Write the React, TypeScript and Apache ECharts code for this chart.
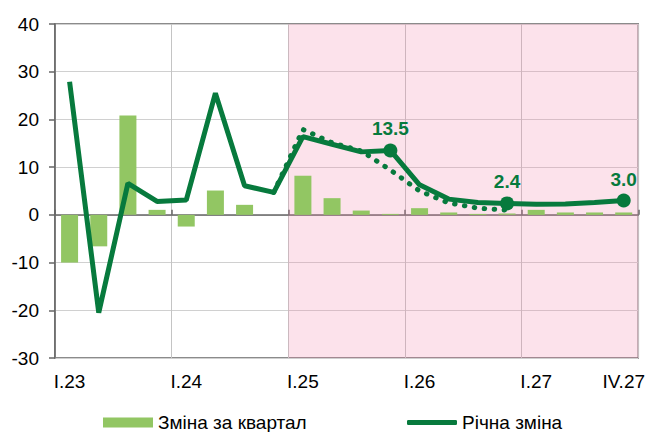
import React, { useEffect, useRef } from "react";
import * as echarts from "echarts";

const categories = [
  "I.23", "II.23", "III.23", "IV.23",
  "I.24", "II.24", "III.24", "IV.24",
  "I.25", "II.25", "III.25", "IV.25",
  "I.26", "II.26", "III.26", "IV.26",
  "I.27", "II.27", "III.27", "IV.27",
];
const quarterChange = [-10.0, -6.6, 20.8, 1.05, -2.45, 5.1, 2.1, 0, 8.2, 3.5, 0.9, 0.2, 1.4, 0.5, 0.2, 0.3, 1.05, 0.5, 0.5, 0.5];
const annualChange = [27.9, -20.5, 6.6, 2.8, 3.1, 25.5, 6.1, 4.7, 16.4, 14.8, 13.2, 13.5, 6.3, 3.3, 2.6, 2.4, 2.2, 2.3, 2.6, 3.0];
const previousForecast: (number | string)[] = ["-", "-", "-", "-", "-", "-", "-", 4.7, 17.9, 15.1, 13.4, 9.4, 5.0, 2.5, 1.4, 1.0, "-", "-", "-", "-"];
const labelledPoints = [11, 15, 19];
const yTicks = { min: -30, max: 40, step: 10 };
const forecastStart = 8;

const DARK = "#077A3D";
const LIGHT = "#92C663";
const AXIS = "#666666";
const FONT = "'Liberation Sans', Arial, sans-serif";
const FS = 19;

export default function App() {
  const ref = useRef<HTMLDivElement>(null);
  useEffect(() => {
    if (!ref.current) return;
    const chart = echarts.init(ref.current, undefined, { renderer: "svg" });
    const lineData = annualChange.map((v, i) =>
      labelledPoints.includes(i)
        ? {
            value: v,
            symbol: "circle",
            symbolSize: 14,
            label: {
              show: true,
              position: "top",
              distance: 5,
              formatter: v.toFixed(1),
              color: DARK,
              fontWeight: "bold",
              fontSize: FS,
              fontFamily: FONT,
            },
          }
        : v
    );
    const legendText = { fontSize: FS, color: "#000", fontFamily: FONT };
    chart.setOption({
      animation: false,
      textStyle: { fontFamily: FONT },
      grid: {
        left: 55,
        right: 9,
        top: 24,
        bottom: 74,
        show: true,
        borderColor: AXIS,
        borderWidth: 1.5,
        backgroundColor: "transparent",
      },
      legend: [
        {
          left: 98,
          top: 408,
          itemWidth: 50,
          itemHeight: 10,
          textStyle: legendText,
          data: [{ name: "Зміна за квартал", icon: "rect" }],
        },
        {
          left: 402,
          top: 408,
          itemWidth: 50,
          itemHeight: 5,
          textStyle: legendText,
          data: [{ name: "Річна зміна", icon: "roundRect" }],
        },
      ],
      xAxis: [
        {
          type: "category",
          data: categories,
          position: "bottom",
          axisLine: { show: false, onZero: false },
          axisTick: { show: false },
          splitLine: { show: false },
          axisLabel: {
            interval: (i: number) => i % 4 === 0 || i === categories.length - 1,
            margin: 14,
            fontSize: FS,
            color: "#000",
            fontFamily: FONT,
          },
        },
        {
          type: "value",
          min: 0,
          max: categories.length,
          interval: 4,
          position: "top",
          axisLine: { show: true, onZero: true, lineStyle: { color: AXIS, width: 1.5 } },
          axisTick: { show: true, length: 5, lineStyle: { color: AXIS, width: 1.5 } },
          axisLabel: { show: false },
          splitLine: { show: true, lineStyle: { color: "#C4C4C4", width: 1 } },
        },
      ],
      yAxis: {
        type: "value",
        min: yTicks.min,
        max: yTicks.max,
        interval: yTicks.step,
        axisLine: { show: true, lineStyle: { color: AXIS, width: 1.5 } },
        axisTick: { show: true, length: 6, lineStyle: { color: AXIS, width: 1.5 } },
        axisLabel: { fontSize: FS, color: "#000", margin: 16, fontFamily: FONT },
        splitLine: { show: true, lineStyle: { color: "#D0D0D0", width: 1 } },
      },
      series: [
        {
          type: "line",
          xAxisIndex: 1,
          yAxisIndex: 0,
          data: [[forecastStart, 0], [categories.length, 0]],
          symbol: "none",
          lineStyle: { opacity: 0 },
          silent: true,
          z: 1,
          markArea: {
            silent: true,
            itemStyle: { color: "rgba(240,130,170,0.23)" },
            data: [[{ xAxis: forecastStart }, { xAxis: categories.length }]],
          },
        },
        {
          name: "Зміна за квартал",
          type: "bar",
          data: quarterChange,
          barWidth: 17,
          itemStyle: { color: LIGHT },
          z: 3,
        },
        {
          name: "Прогноз",
          type: "line",
          data: previousForecast,
          symbol: "none",
          lineStyle: { color: DARK, width: 5, type: [0.5, 9.5], cap: "round" },
          z: 4,
        },
        {
          name: "Річна зміна",
          type: "line",
          data: lineData,
          symbol: "none",
          itemStyle: { color: DARK },
          lineStyle: { color: DARK, width: 5 },
          z: 5,
        },
      ],
    });
    return () => chart.dispose();
  }, []);
  return <div ref={ref} style={{ width: 648, height: 432, position: "absolute", left: 0, top: 0 }} />;
}
